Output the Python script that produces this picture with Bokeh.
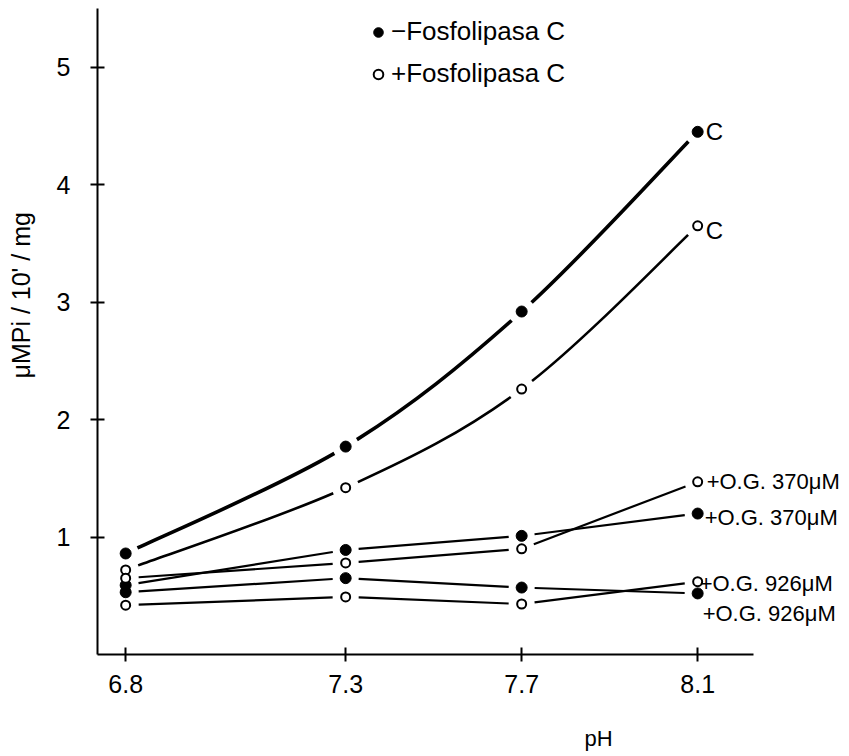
import numpy as np
from bokeh.plotting import figure
from bokeh.models import FixedTicker, Label, Legend, LegendItem, Range1d, Title
from bokeh.embed import file_html
from bokeh.resources import INLINE

# ---- data ----
ph = [6.8, 7.3, 7.7, 8.1]
ph_labels = ["6.8", "7.3", "7.7", "8.1"]
y_ticks = [1, 2, 3, 4, 5]

ctrl_minus = [0.86, 1.77, 2.92, 4.45]    # -Fosfolipasa C, control (filled)
ctrl_plus = [0.72, 1.42, 2.26, 3.65]     # +Fosfolipasa C, control (open)
og370_minus = [0.59, 0.89, 1.01, 1.20]   # filled, +O.G. 370 uM
og370_plus = [0.65, 0.78, 0.90, 1.47]    # open, +O.G. 370 uM
og926_minus = [0.53, 0.65, 0.57, 0.52]   # filled, +O.G. 926 uM
og926_plus = [0.42, 0.49, 0.43, 0.62]    # open, +O.G. 926 uM

legend_texts = ["\u2212Fosfolipasa C", "+Fosfolipasa C"]
x_title = "pH"
y_title = "\u03bcMPi / 10' / mg"

FONT = "Liberation Sans"

W, H = 845, 756
BL, BR, BT, BB = 97, 0, 8, 102
X0, X1 = 6.736, 8.436
Y0, Y1 = 0.0, 5.50
SX = (W - BL - BR) / (X1 - X0)   # px per x unit
SY = (H - BT - BB) / (Y1 - Y0)   # px per y unit
GAP = 13

p = figure(width=W, height=H, output_backend="svg", toolbar_location=None,
           x_range=Range1d(X0, X1), y_range=Range1d(Y0, Y1),
           min_border_left=BL, min_border_right=BR, min_border_top=BT,
           min_border_bottom=BB)
p.outline_line_color = None
p.xgrid.visible = False
p.ygrid.visible = False
p.background_fill_color = "white"

for ax in (p.xaxis[0], p.yaxis[0]):
    ax.axis_line_width = 2
    ax.axis_line_color = "black"
    ax.major_tick_line_width = 2
    ax.major_tick_in = 7
    ax.major_tick_out = 7
    ax.minor_tick_line_color = None
    ax.major_label_text_font = FONT
    ax.major_label_text_font_size = "25px"
    ax.major_label_text_color = "black"

p.xaxis.ticker = FixedTicker(ticks=ph)
p.xaxis.major_label_overrides = {t: l for t, l in zip(ph, ph_labels)}
p.xaxis.bounds = (X0, 8.227)
p.xaxis.major_label_standoff = 13
p.yaxis.ticker = FixedTicker(ticks=y_ticks)
p.yaxis.major_label_standoff = 20

# spacer panels (blank) to push the axis titles outward
p.add_layout(Title(text=" ", standoff=0, text_font_size="23px"), "below")
p.add_layout(Title(text=" ", standoff=0, text_font_size="9px"), "left")

p.add_layout(Title(text=x_title, align="left", offset=487, standoff=0,
                   vertical_align="bottom",
                   text_font=FONT, text_font_size="22px",
                   text_font_style="normal", text_color="black"), "below")
p.add_layout(Title(text=y_title, align="left", offset=276, standoff=10,
                   vertical_align="top",
                   text_font=FONT, text_font_size="25px",
                   text_font_style="normal", text_color="black"), "left")


def to_px(x, y):
    return np.array([(x - X0) * SX, (y - Y0) * SY])


def to_data(v):
    return v[0] / SX + X0, v[1] / SY + Y0


def bez_point(P, t):
    P0, C1, C2, P3 = P
    return ((1 - t) ** 3) * P0 + 3 * ((1 - t) ** 2) * t * C1 + 3 * (1 - t) * t * t * C2 + t ** 3 * P3


def split_left(P, t):
    P0, C1, C2, P3 = P
    a = P0 + (C1 - P0) * t
    b = C1 + (C2 - C1) * t
    c = C2 + (P3 - C2) * t
    d = a + (b - a) * t
    e = b + (c - b) * t
    f = d + (e - d) * t
    return [P0, a, d, f], [f, e, c, P3]


def sub_bezier(P, ta, tb):
    left, _ = split_left(P, tb)
    _, right = split_left(left, ta / tb)
    return right


def gapped_bezier(xs, ys, gap):
    pts = [to_px(x, y) for x, y in zip(xs, ys)]
    n = len(pts)
    out = dict(x0=[], y0=[], x1=[], y1=[], cx0=[], cy0=[], cx1=[], cy1=[])
    ts = np.linspace(0, 1, 401)
    for i in range(n - 1):
        im, ip = max(i - 1, 0), min(i + 2, n - 1)
        P = [pts[i], pts[i] + (pts[i + 1] - pts[im]) / 6,
             pts[i + 1] - (pts[ip] - pts[i]) / 6, pts[i + 1]]
        d0 = np.array([np.linalg.norm(bez_point(P, t) - P[0]) for t in ts])
        d1 = np.array([np.linalg.norm(bez_point(P, t) - P[3]) for t in ts])
        ta = ts[np.argmax(d0 >= gap)]
        tb = ts[len(ts) - 1 - np.argmax(d1[::-1] >= gap)]
        S = sub_bezier(P, ta, tb)
        (x0, y0), (cx0, cy0), (cx1, cy1), (x1, y1) = [to_data(v) for v in S]
        for k, v in zip(["x0", "y0", "cx0", "cy0", "cx1", "cy1", "x1", "y1"],
                        [x0, y0, cx0, cy0, cx1, cy1, x1, y1]):
            out[k].append(v)
    return out


def gapped_segments(xs, ys, gap):
    out = dict(x0=[], y0=[], x1=[], y1=[])
    for i in range(len(xs) - 1):
        a, b = to_px(xs[i], ys[i]), to_px(xs[i + 1], ys[i + 1])
        u = (b - a) / np.linalg.norm(b - a)
        s, e = to_data(a + u * gap), to_data(b - u * gap)
        out["x0"].append(s[0]); out["y0"].append(s[1])
        out["x1"].append(e[0]); out["y1"].append(e[1])
    return out


# curves for controls
p.bezier(line_width=3.6, line_color="black", **gapped_bezier(ph, ctrl_minus, GAP))
p.bezier(line_width=2.6, line_color="black", **gapped_bezier(ph, ctrl_plus, GAP))

# straight polylines for O.G. series
for ys in (og370_minus, og370_plus, og926_minus, og926_plus):
    p.segment(line_width=2.2, line_color="black", **gapped_segments(ph, ys, GAP))

series = [(ctrl_minus, True), (ctrl_plus, False), (og370_minus, True),
          (og370_plus, False), (og926_minus, True), (og926_plus, False)]

renderers = []
for ys, filled in series:
    if filled:
        r = p.scatter(ph, ys, size=11, fill_color="black", line_color="black")
    else:
        r = p.scatter(ph, ys, size=9, fill_color="white", line_color="black",
                      line_width=2)
    renderers.append(r)

legend = Legend(items=[LegendItem(label=legend_texts[0], renderers=[renderers[0]]),
                       LegendItem(label=legend_texts[1], renderers=[renderers[1]])],
                location=(269, 565), orientation="vertical",
                glyph_width=24, glyph_height=30, label_height=30, spacing=11,
                label_standoff=1, padding=0, margin=0,
                border_line_color=None, background_fill_alpha=0,
                label_text_font=FONT, label_text_font_size="26px",
                label_text_color="black")
p.add_layout(legend)

# end labels
end_labels = [
    ("C", ctrl_minus[-1], 8, 0, "24px"),
    ("C", ctrl_plus[-1], 8, -5, "24px"),
    ("+O.G. 370\u03bcM", og370_plus[-1], 9, 0, "22px"),
    ("+O.G. 370\u03bcM", og370_minus[-1], 7, -4, "22px"),
    ("+O.G. 926\u03bcM", og926_plus[-1], 2, -2, "22px"),
    ("+O.G. 926\u03bcM", og926_minus[-1], 5, -20, "22px"),
]
for txt, yv, dx, dy, fs in end_labels:
    p.add_layout(Label(x=ph[-1], y=yv, x_offset=dx, y_offset=dy, text=txt,
                       text_font=FONT, text_font_size=fs, text_color="black",
                       text_align="left", text_baseline="middle"))

open("out.html", "w").write(file_html(p, INLINE))
